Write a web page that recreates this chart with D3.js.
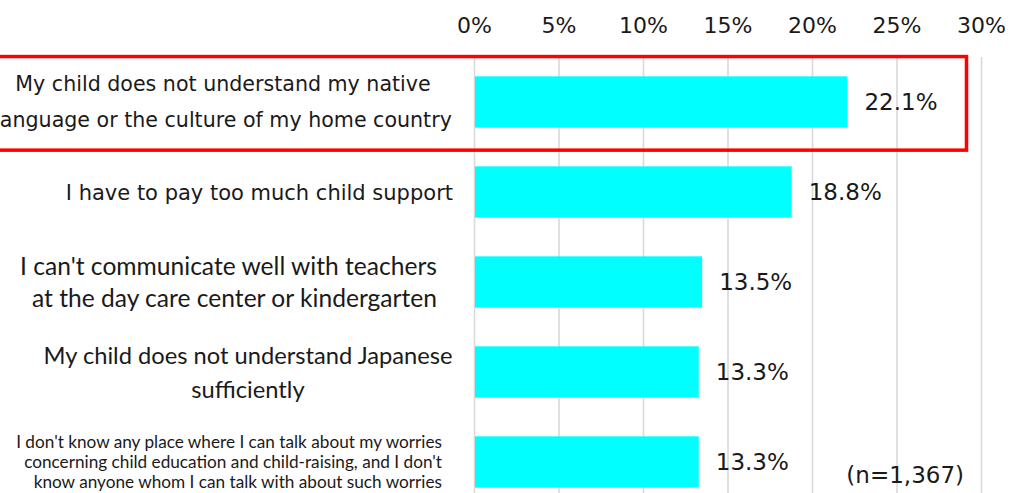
<!DOCTYPE html>
<html lang="en">
<head>
  <meta charset="UTF-8">
  <script src="https://cdn.jsdelivr.net/npm/d3@7"></script>
  <style>
    body { margin: 0; background: #fff; }
  </style>
</head>
<body>
  <svg width="1011" height="493"></svg>

  <script>
    // data
    var categories = [
      ["My child does not understand my native", "language or the culture of my home country"],
      ["I have to pay too much child support"],
      ["I can't communicate well with teachers", "at the day care center or kindergarten"],
      ["My child does not understand Japanese", "sufficiently"],
      ["I don't know any place where I can talk about my worries",
       "concerning child education and child-raising, and I don't",
       "know anyone whom I can talk with about such worries"]
    ];
    var values = [22.1, 18.8, 13.5, 13.3, 13.3];
    var tickValues = [0, 5, 10, 15, 20, 25, 30];
    var sampleNote = "(n=1,367)";

    // how each category label is set (kept apart from the data)
    var labelStyle = [
      { font: "DejaVu Sans", size: 20.6, anchor: "middle", x: 223, lh: 36 },
      { font: "DejaVu Sans", size: 21, anchor: "end", x: 453, lh: 36 },
      { font: "Lato", size: 24.6, anchor: "end", x: 437, lh: 32 },
      { font: "Lato", size: 23.7, anchor: "middle", x: 248, lh: 34 },
      { font: "Lato", size: 17.2, anchor: "end", x: 442, lh: 20 }
    ];

    var svg = d3.select("svg");
    var textColor = "#1a1a1a";

    var x = d3.scaleLinear().domain([0, 30]).range([474, 981]);
    var y = d3.scaleBand()
      .domain(d3.range(values.length))
      .range([57, 507])
      .paddingInner(0.43)
      .paddingOuter(0.215);

    // axis on top with gridlines
    var axis = svg.append("g")
      .attr("transform", "translate(0,57)")
      .call(d3.axisTop(x)
        .tickValues(tickValues)
        .tickFormat(function(d){ return d + "%" })
        .tickSize(-450)
        .tickPadding(24));
    axis.select(".domain").remove();
    axis.selectAll(".tick line")
      .attr("stroke", "#d9d9d9")
      .attr("stroke-width", 1.6);
    axis.selectAll(".tick text")
      .attr("fill", textColor)
      .style("font-family", "DejaVu Sans")
      .style("font-size", "22px");

    // bars
    svg.append("g")
      .selectAll("rect")
      .data(values)
      .enter()
      .append("rect")
      .attr("x", x(0) + 1)
      .attr("y", function(d, i){ return y(i) })
      .attr("width", function(d){ return x(d) - x(0) - 1 })
      .attr("height", y.bandwidth())
      .attr("fill", "#00ffff");

    // value labels
    svg.append("g")
      .selectAll("text")
      .data(values)
      .enter()
      .append("text")
      .attr("x", function(d){ return x(d) + 17 })
      .attr("y", function(d, i){ return y(i) + y.bandwidth() / 2 })
      .attr("dy", "0.36em")
      .attr("fill", textColor)
      .style("font-family", "DejaVu Sans")
      .style("font-size", "23px")
      .text(function(d){ return d.toFixed(1) + "%" });

    // category labels
    var labels = svg.append("g")
      .selectAll("text")
      .data(categories)
      .enter()
      .append("text")
      .attr("fill", textColor)
      .attr("text-anchor", function(d, i){ return labelStyle[i].anchor })
      .style("font-family", function(d, i){ return labelStyle[i].font })
      .style("font-size", function(d, i){ return labelStyle[i].size + "px" });

    labels.each(function(lines, i) {
      var st = labelStyle[i];
      var cy = y(i) + y.bandwidth() / 2;
      var top = cy - (lines.length - 1) * st.lh / 2;
      d3.select(this).selectAll("tspan")
        .data(lines)
        .enter()
        .append("tspan")
        .attr("x", st.x)
        .attr("y", function(l, k){ return top + k * st.lh })
        .attr("dy", "0.36em")
        .text(function(l){ return l });
    });

    // red highlight box around the first item
    var step = y.step();
    svg.append("rect")
      .attr("x", -10)
      .attr("y", y(0) - step * 0.22)
      .attr("width", 966.5 + 10)
      .attr("height", step * 1.04)
      .attr("fill", "none")
      .attr("stroke", "#ff0000")
      .attr("stroke-width", 3.5);

    // sample size note
    svg.append("text")
      .attr("x", 964)
      .attr("y", 483)
      .attr("text-anchor", "end")
      .attr("fill", textColor)
      .style("font-family", "DejaVu Sans")
      .style("font-size", "23px")
      .text(sampleNote);
  </script>
</body>
</html>
